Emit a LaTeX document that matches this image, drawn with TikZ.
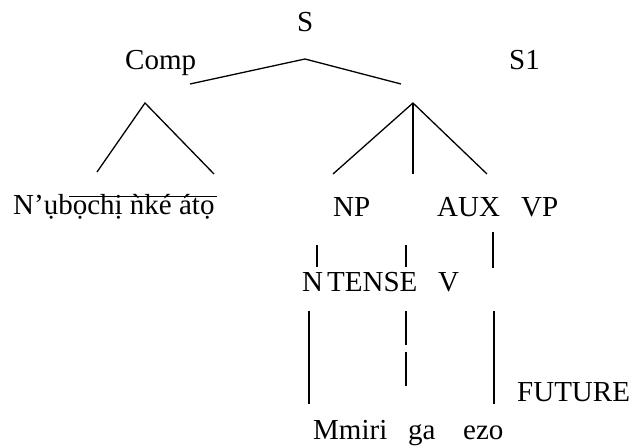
\documentclass[tikz,border=0pt]{standalone}
\usepackage{fontspec}
\setmainfont{Liberation Serif}
\begin{document}
\begin{tikzpicture}[x=1pt,y=-1pt,
  lbl/.style={anchor=base west,inner sep=0pt,font=\fontsize{29}{34}\selectfont},
  edge/.style={line width=1.3pt,line join=miter}]
\useasboundingbox (0,0) rectangle (633,446);
% category and word labels
\node[lbl] (s)      at (297,32)  {S};
\node[lbl] (comp)   at (125,70)  {Comp};
\node[lbl] (s1)     at (509,70)  {S1};
\node[lbl] (igbo)   at (13,215)  {N’ụbọchị ǹké átọ};
\node[lbl] (np)     at (333,217) {NP};
\node[lbl] (aux)    at (437,217) {AUX};
\node[lbl] (vp)     at (521,217) {VP};
\node[lbl] (n)      at (302,292) {N};
\node[lbl] (tense)  at (327,292) {TENSE};
\node[lbl] (v)      at (438,292) {V};
\node[lbl] (future) at (517,402) {FUTURE};
\node[lbl] (mmiri)  at (313,439.5) {Mmiri};
\node[lbl] (ga)     at (408,439.5) {ga};
\node[lbl] (ezo)    at (463,439.5) {ezo};
% branch points
\coordinate (sTop) at (305,59);
\coordinate (sL) at (190,84);
\coordinate (sR) at (401,84);
\coordinate (cTop) at (145,103);
\coordinate (cL) at (97,172);
\coordinate (cR) at (214,174);
\coordinate (rTop) at (413,103);
\coordinate (rL) at (333,174);
\coordinate (rM) at (413,174);
\coordinate (rR) at (487,174);
\coordinate (ol1) at (69,197);
\coordinate (ol2) at (217,197);
\coordinate (a1) at (317,245); \coordinate (a2) at (317,267);
\coordinate (b1) at (406,245); \coordinate (b2) at (406,267);
\coordinate (c1) at (493,232); \coordinate (c2) at (493,268);
\coordinate (d1) at (309,311); \coordinate (d2) at (309,404);
\coordinate (e1) at (406,311); \coordinate (e2) at (406,345);
\coordinate (e3) at (406,352); \coordinate (e4) at (406,386);
\coordinate (f1) at (494,311); \coordinate (f2) at (494,404);
% branches
\draw[edge] (sL) -- (sTop) -- (sR);
\draw[edge] (cL) -- (cTop) -- (cR);
\draw[edge] (rL) -- (rTop) -- (rR);
\draw[edge] (rTop) -- (rM);
\draw[line width=1pt] (ol1) -- (ol2);
\draw[edge] (a1) -- (a2);
\draw[edge] (b1) -- (b2);
\draw[edge] (c1) -- (c2);
\draw[edge] (d1) -- (d2);
\draw[edge] (e1) -- (e2);
\draw[edge] (e3) -- (e4);
\draw[edge] (f1) -- (f2);
\end{tikzpicture}
\end{document}
